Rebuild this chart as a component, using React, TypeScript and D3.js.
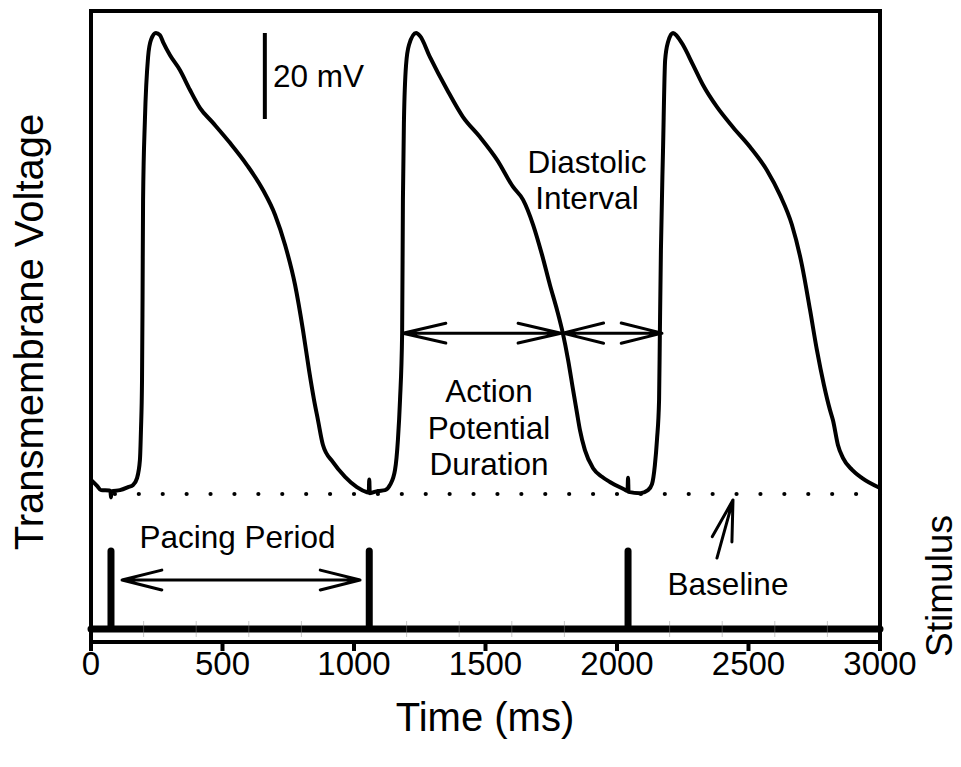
import React from 'react';
import * as d3 from 'd3';

const W = 961;
const H = 767;

// Time axis ticks (ms)
const timeTicks = [0, 500, 1000, 1500, 2000, 2500, 3000];
const minorTicks = [200, 400, 600, 800, 1200, 1400, 1600, 1800, 2200, 2400, 2600, 2800];

// Recorded transmembrane voltage trace: time (ms) and voltage (mV)
const traceTime = [
  0, 23, 38, 70, 74, 76, 78, 110, 141, 160, 175, 186, 190, 194, 196, 198, 205, 217, 228, 247,
  262, 274, 300, 338, 376, 414, 464, 529, 593, 654, 700, 738, 776, 806, 829, 848, 863, 882,
  920, 966, 1011, 1050, 1056, 1058, 1060, 1091, 1118, 1137, 1156, 1167, 1175, 1183, 1186,
  1190, 1198, 1209, 1236, 1251, 1289, 1354, 1414, 1479, 1544, 1605, 1643, 1681, 1715, 1745,
  1772, 1794, 1814, 1833, 1848, 1859, 1878, 1909, 1943, 1973, 2030, 2040, 2042, 2044, 2088,
  2118, 2133, 2144, 2152, 2160, 2163, 2167, 2175, 2183, 2194, 2213, 2228, 2251, 2289, 2327,
  2380, 2441, 2506, 2570, 2620, 2665, 2703, 2734, 2760, 2787, 2810, 2821, 2840, 2859, 2894,
  2932, 3000,
];
const traceMv = [
  -81.7, -83.1, -84.1, -84.2, -84.4, -85.8, -84.4, -84.1, -83.4, -82.9, -81.3, -77.1, -70.1,
  -58.5, -39.9, -16.6, 2.0, 16.6, 20.6, 22.2, 21.7, 20.1, 17.1, 13.6, 9.0, 4.8, 1.3, -3.4,
  -8.5, -14.3, -20.1, -27.1, -36.4, -46.9, -56.2, -63.1, -67.8, -73.6, -77.6, -81.0, -83.4,
  -84.6, -84.7, -81.6, -84.8, -84.3, -84.1, -82.9, -79.4, -72.4, -63.1, -47.6, -16.6, 2.0,
  14.8, 19.4, 22.2, 21.5, 16.6, 9.0, 2.7, -2.0, -7.3, -13.6, -16.6, -22.4, -29.4, -36.4,
  -42.2, -47.6, -53.8, -60.8, -66.2, -70.1, -74.8, -79.0, -81.0, -82.2, -84.0, -84.3, -81.2,
  -84.5, -84.8, -84.1, -82.7, -78.3, -72.4, -63.1, -47.6, -28.3, -5.0, 15.9, 20.1, 22.2,
  21.5, 19.4, 14.8, 10.1, 5.0, 0.3, -4.3, -9.7, -15.5, -22.4, -31.7, -42.2, -51.5, -59.7,
  -65.5, -67.8, -73.6, -76.6, -79.4, -81.3, -83.6,
];

// Stimulus pulse times (ms)
const stimulusTimes = [76, 1058, 2042];

// Resting baseline (mV)
const baselineMv = -85;

const FONT = '"Liberation Sans", Arial, Helvetica, sans-serif';

function arrowPath(
  x1: number,
  y1: number,
  x2: number,
  y2: number,
  both: boolean,
  len = 42,
  spread = 13
): string {
  const a = Math.atan2(y2 - y1, x2 - x1);
  const s = (spread * Math.PI) / 180;
  const head = (tx: number, ty: number, dir: number) => {
    const back = dir + Math.PI;
    const w1x = tx + len * Math.cos(back - s);
    const w1y = ty + len * Math.sin(back - s);
    const w2x = tx + len * Math.cos(back + s);
    const w2y = ty + len * Math.sin(back + s);
    return `M${w1x},${w1y}L${tx},${ty}L${w2x},${w2y}`;
  };
  let d = `M${x1},${y1}L${x2},${y2}` + head(x2, y2, a);
  if (both) d += head(x1, y1, a + Math.PI);
  return d;
}

export default function App() {
  const x = d3.scaleLinear().domain([0, 3000]).range([91, 880]);
  const yV = d3.scaleLinear().domain([baselineMv, 22.2]).range([494, 33]);
  const yS = d3.scaleLinear().domain([0, 1]).range([629, 551]);

  const trace = d3
    .line<number>()
    .x((_, i) => x(traceTime[i]))
    .y((d) => yV(d))
    .curve(d3.curveMonotoneX)(traceMv) as string;

  const stimPts: [number, number][] = [[0, 0]];
  stimulusTimes.forEach((t) => {
    stimPts.push([t, 0], [t, 1], [t, 0]);
  });
  stimPts.push([3000, 0]);
  const stim = d3
    .line<[number, number]>()
    .x((d) => x(d[0]))
    .y((d) => yS(d[1]))(stimPts) as string;

  const axisY = 642;
  const top = 11;
  const left = x(0);
  const right = x(3000);
  const dotStep = (right - left) / 33;

  // annotation arrows
  const apdY = yV(-47.6);
  const apdArrow = arrowPath(x(1186), apdY, x(1787), apdY, true, 44, 13);
  const diArrow = arrowPath(x(1794), apdY, x(2171), apdY, true, 42, 14);
  const paceY = yS(0.628);
  const paceArrow = arrowPath(x(118), paceY, x(1023), paceY, true, 41, 14);
  const baseArrow = arrowPath(x(2380), yV(-99.9), x(2441), yV(-86.4), false, 42, 14);

  return (
    <svg
      width={W}
      height={H}
      viewBox={`0 0 ${W} ${H}`}
      style={{ position: 'absolute', left: 0, top: 0, background: '#fff' }}
      fontFamily={FONT}
    >
      <rect width={W} height={H} fill="#fff" />

      {/* dotted resting baseline */}
      <line
        x1={left}
        x2={right}
        y1={yV(baselineMv)}
        y2={yV(baselineMv)}
        stroke="#000"
        strokeWidth={4.2}
        strokeLinecap="round"
        strokeDasharray={`0 ${dotStep}`}
      />

      {/* frame */}
      <line x1={left} x2={right} y1={top} y2={top} stroke="#000" strokeWidth={4} strokeLinecap="square" />
      <line x1={left} x2={left} y1={top} y2={651} stroke="#000" strokeWidth={4} />
      <line x1={right} x2={right} y1={top} y2={651} stroke="#000" strokeWidth={4} />

      {/* x axis */}
      <line x1={left} x2={right} y1={axisY} y2={axisY} stroke="#000" strokeWidth={4} />
      {timeTicks.map((t) => (
        <g key={t}>
          <line x1={x(t)} x2={x(t)} y1={axisY} y2={651} stroke="#000" strokeWidth={4} />
          <text x={x(t)} y={675} fontSize={33} textAnchor="middle" fill="#000">
            {t}
          </text>
        </g>
      ))}

      {/* stimulus trace */}
      <path d={stim} fill="none" stroke="#000" strokeWidth={7} strokeLinejoin="round" strokeLinecap="round" />
      {minorTicks.map((t) => (
        <line key={t} x1={x(t)} x2={x(t)} y1={621} y2={637} stroke="#888" strokeOpacity={0.45} strokeWidth={1} />
      ))}

      {/* voltage trace */}
      <path d={trace} fill="none" stroke="#000" strokeWidth={4} strokeLinejoin="round" />

      {/* 20 mV scale bar */}
      <line x1={x(661)} x2={x(661)} y1={yV(22.2)} y2={yV(2.2)} stroke="#000" strokeWidth={4} />
      <text x={273} y={87} fontSize={31.5} fill="#000">20 mV</text>

      {/* annotations */}
      <path d={apdArrow} fill="none" stroke="#000" strokeWidth={3} strokeLinecap="round" />
      <path d={diArrow} fill="none" stroke="#000" strokeWidth={3} strokeLinecap="round" />
      <path d={paceArrow} fill="none" stroke="#000" strokeWidth={3} strokeLinecap="round" />
      <path d={baseArrow} fill="none" stroke="#000" strokeWidth={3} strokeLinecap="round" />

      <g fontSize={31.5} textAnchor="middle" fill="#000">
        <text x={587} y={173}>Diastolic</text>
        <text x={587} y={209}>Interval</text>
        <text x={489} y={402}>Action</text>
        <text x={489} y={439}>Potential</text>
        <text x={489} y={475}>Duration</text>
        <text x={237.5} y={548}>Pacing Period</text>
        <text x={728} y={595}>Baseline</text>
      </g>

      {/* axis titles */}
      <text x={485} y={731} fontSize={40} textAnchor="middle" fill="#000">Time (ms)</text>
      <text transform="translate(43,332) rotate(-90)" fontSize={40} textAnchor="middle" fill="#000">
        Transmembrane Voltage
      </text>
      <text transform="translate(952,586) rotate(-90)" fontSize={37} textAnchor="middle" fill="#000">
        Stimulus
      </text>
    </svg>
  );
}
